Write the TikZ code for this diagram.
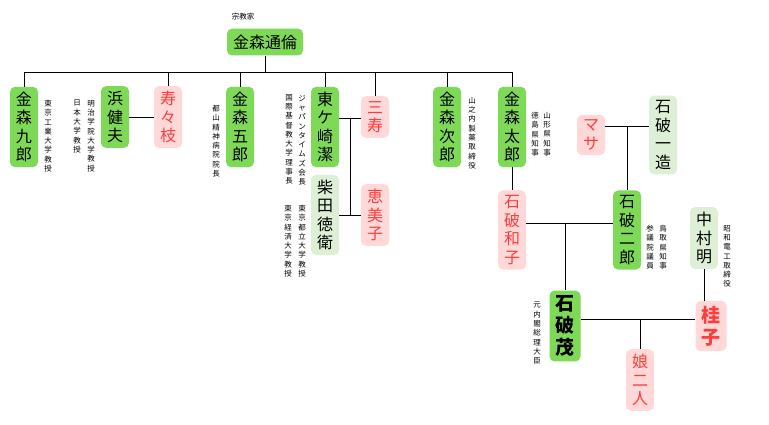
\documentclass[tikz,border=0pt]{standalone}
\usepackage{fontspec}
\setmainfont{Noto Sans CJK JP}
\usepackage{tikz}

\makeatletter
% one character per line
\newcommand\tate[1]{\vbox{\@tfor\ch:=#1\do{\hbox to 1em{\hss\ch\hss}}}}
\makeatother

\definecolor{kgreen}{HTML}{7ED957}
\definecolor{lgreen}{HTML}{DDF0D6}
\definecolor{lpink}{HTML}{FFD8D8}
\definecolor{kred}{HTML}{FF3B3B}

\begin{document}
\begin{tikzpicture}[x=1pt, y=-1pt,
    man/.style={fill=kgreen, rounded corners=5pt, inner xsep=6pt, inner ysep=5pt,
                font=\fontsize{16}{18.5}\selectfont},
    inlaw/.style={man, fill=lgreen},
    woman/.style={man, fill=lpink, text=kred},
    note/.style={anchor=north, inner sep=0pt, font=\fontsize{7.5}{9.3}\selectfont},
    link/.style={line width=1pt}]
            \useasboundingbox (0,0) rectangle (769,424);

            \node[man, font=\fontsize{16}{18}\selectfont, inner ysep=6pt] (michitomo) at (265,42) {金森通倫};
            \node[note, font=\fontsize{7.5}{9}\selectfont] (n0) at (243,13) {宗教家};

            \node[man] (kuro) at (24,127) {\tate{金森九郎}};
            \node[man] (takeo) at (115,117) {\tate{浜健夫}};
            \node[woman] (sumie) at (168,117) {\tate{寿々枝}};
            \node[man] (goro) at (240,127) {\tate{金森五郎}};
            \node[man] (kiyoshi) at (325,127) {\tate{東ケ崎潔}};
            \node[woman] (mikoto) at (375,117) {\tate{三寿}};
            \node[inlaw] (tokue) at (325,215) {\tate{柴田徳衛}};
            \node[woman] (emiko) at (375,215) {\tate{恵美子}};
            \node[man] (jiro) at (447,127) {\tate{金森次郎}};
            \node[man] (taro) at (512,127) {\tate{金森太郎}};
            \node[woman] (masa) at (591,135) {\tate{マサ}};
            \node[inlaw] (ichizo) at (663,135) {\tate{石破一造}};
            \node[woman] (kazuko) at (512,230) {\tate{石破和子}};
            \node[man] (jiro2) at (627,230) {\tate{石破二郎}};
            \node[inlaw] (akira) at (704,238) {\tate{中村明}};
            \node[man, font=\fontsize{19}{22}\selectfont\bfseries] (shigeru) at (565,326) {\tate{石破茂}};
            \node[woman, font=\fontsize{19}{22}\selectfont\bfseries] (yoshiko) at (711,326) {\tate{桂子}};
            \node[woman] (musume) at (640,380) {\tate{娘二人}};

            % notes
            \node[note] (n1) at (48,100) {\tate{東京工業大学教授}};
            \node[note] (n2) at (91,100) {\tate{明治学院大学教授}};
            \node[note] (n3) at (77,100) {\tate{日本大学教授}};
            \node[note] (n4) at (216,105) {\tate{都山精神病院院長}};
            \node[note] (n5) at (302,95) {\tate{ジャパンタイムズ会長}};
            \node[note] (n6) at (289,94) {\tate{国際基督教大学理事長}};
            \node[note] (n7) at (302,205) {\tate{東京都立大学教授}};
            \node[note] (n8) at (288,205) {\tate{東京経済大学教授}};
            \node[note] (n9) at (472,97) {\tate{山之内製薬取締役}};
            \node[note] (n10) at (547,112) {\tate{山形県知事}};
            \node[note] (n11) at (535,112) {\tate{徳島県知事}};
            \node[note] (n12) at (663,225) {\tate{鳥取県知事}};
            \node[note] (n13) at (650,225) {\tate{参議院議員}};
            \node[note] (n14) at (727,225) {\tate{昭和電工取締役}};
            \node[note] (n15) at (537,302) {\tate{元内閣総理大臣}};

            % children of michitomo
            \coordinate (bus) at (265,72);
            \draw[link] (michitomo) -- (bus);
            \draw[link] (24,72) -- (512,72);
            \foreach \c/\x in {kuro/24, sumie/168, goro/240, kiyoshi/325, mikoto/375, jiro/447, taro/512} {
                    \draw[link] (\x,72) -- (\c);
                }

            % marriages
            \draw[link] (takeo) -- (sumie);
            \draw[link] (kiyoshi.east |- 0,118) -- (mikoto.west |- 0,118);
            \draw[link] (tokue) -- (emiko);
            \draw[link] (350,118) -- (350,215);
            \draw[link] (masa.east |- 0,126) -- (ichizo.west |- 0,126);
            \draw[link] (627,126) -- (jiro2);
            \draw[link] (taro) -- (kazuko);
            \draw[link] (kazuko.east |- 0,223) -- (jiro2.west |- 0,223);
            \draw[link] (565,223) -- (shigeru);
            \draw[link] (akira) -- (akira |- yoshiko.north);
            \draw[link] (shigeru.east |- 0,319) -- (yoshiko.west |- 0,319);
            \draw[link] (640,319) -- (musume);
        \end{tikzpicture}
\end{document}
